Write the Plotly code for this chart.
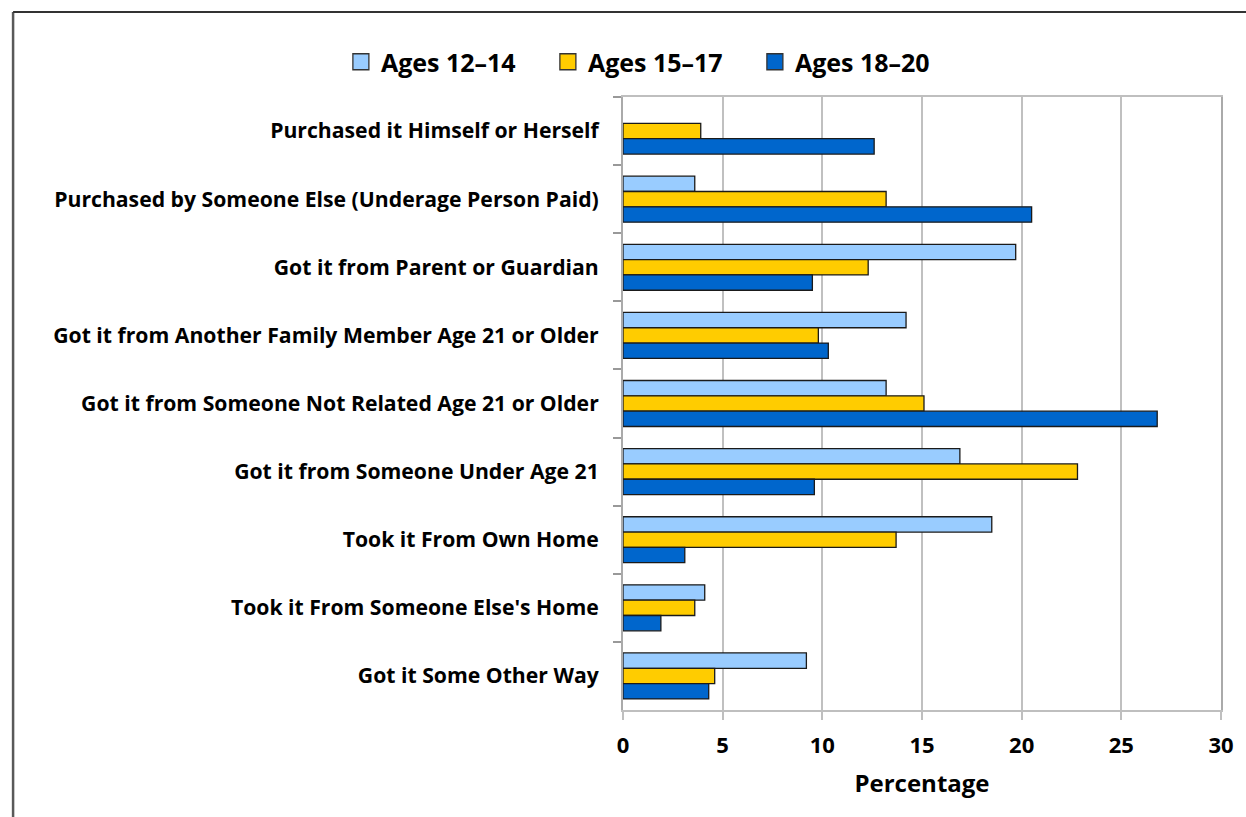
import plotly.graph_objects as go

categories = [
    "Purchased it Himself or Herself",
    "Purchased by Someone Else (Underage Person Paid)",
    "Got it from Parent or Guardian",
    "Got it from Another Family Member Age 21 or Older",
    "Got it from Someone Not Related Age 21 or Older",
    "Got it from Someone Under Age 21",
    "Took it From Own Home",
    "Took it From Someone Else's Home",
    "Got it Some Other Way",
]
ages_12_14 = [None, 3.6, 19.7, 14.2, 13.2, 16.9, 18.5, 4.1, 9.2]
ages_15_17 = [3.9, 13.2, 12.3, 9.8, 15.1, 22.8, 13.7, 3.6, 4.6]
ages_18_20 = [12.6, 20.5, 9.5, 10.3, 26.8, 9.6, 3.1, 1.9, 4.3]
series_names = ["Ages 12\u201314", "Ages 15\u201317", "Ages 18\u201320"]
colors = ["#99CCFF", "#FFCC00", "#0066CC"]

W, H = 1246, 817
ML, MR, MT, MB = 623, 21, 97, 107
FONT = "Open Sans"

fig = go.Figure()
for name, vals, col in zip(series_names, [ages_12_14, ages_15_17, ages_18_20], colors):
    fig.add_trace(go.Bar(
        y=categories, x=vals, name=name, orientation="h",
        marker=dict(color=col, line=dict(color="#1a1a1a", width=1.3)),
        showlegend=False, legendgroup=name,
    ))
    fig.add_trace(go.Scatter(
        x=[None], y=[None], mode="markers", name=name, legendgroup=name,
        marker=dict(symbol="square", size=22, color=col, line=dict(color="#333333", width=1.3)),
        showlegend=True,
    ))

pw = W - ML - MR
ph = H - MT - MB

fig.update_layout(
    width=W, height=H,
    margin=dict(l=ML, r=MR, t=MT, b=MB),
    paper_bgcolor="white", plot_bgcolor="white",
    barmode="group", bargap=0.325, bargroupgap=0,
    font=dict(family=FONT, color="black", weight="bold"),
    legend=dict(
        orientation="h", x=(339 - ML) / pw, xanchor="left",
        y=1 + 35 / ph, yanchor="middle",
        font=dict(size=25, family=FONT, weight="bold"),
        itemsizing="trace", traceorder="normal",
        entrywidth=162, entrywidthmode="pixels",
        bgcolor="rgba(0,0,0,0)",
    ),
    xaxis=dict(
        range=[0, 30], dtick=5, tick0=0,
        showgrid=True, gridcolor="#c0c0c0", gridwidth=1.5,
        showline=True, linecolor="#bfbfbf", linewidth=2, mirror=True,
        ticks="outside", ticklen=8, tickcolor="#bfbfbf", tickwidth=1.5,
        tickfont=dict(size=22, family=FONT, weight="bold"),
        ticklabelstandoff=7,
        title=dict(text="Percentage", font=dict(size=24, family=FONT, weight="bold"), standoff=17),
        zeroline=False, fixedrange=True,
    ),
    yaxis=dict(
        type="category", range=[8.5, -0.5],
        tickson="boundaries", ticks="outside", ticklen=8, tickcolor="#999999", tickwidth=1.5,
        showline=True, linecolor="#aaaaaa", linewidth=2, mirror=True,
        showgrid=False,
        tickfont=dict(size=21.2, family=FONT, weight="bold"),
        ticklabelstandoff=18,
    ),
    shapes=[
        dict(type="line", xref="paper", yref="paper",
             x0=-(ML - 9) / pw, x1=-(ML - 9) / pw, y0=1 + (MT - 12) / ph, y1=-(MB + 10) / ph,
             line=dict(color="#595959", width=2.5)),
        dict(type="line", xref="paper", yref="paper",
             x0=-(ML - 9) / pw, x1=1 + (MR + 10) / pw, y0=1 + (MT - 12) / ph, y1=1 + (MT - 12) / ph,
             line=dict(color="#333333", width=2)),
    ],
)

fig.write_html("out.html", config={"displayModeBar": False},
               post_script="document.body.style.margin='0';document.body.style.overflow='hidden';")
